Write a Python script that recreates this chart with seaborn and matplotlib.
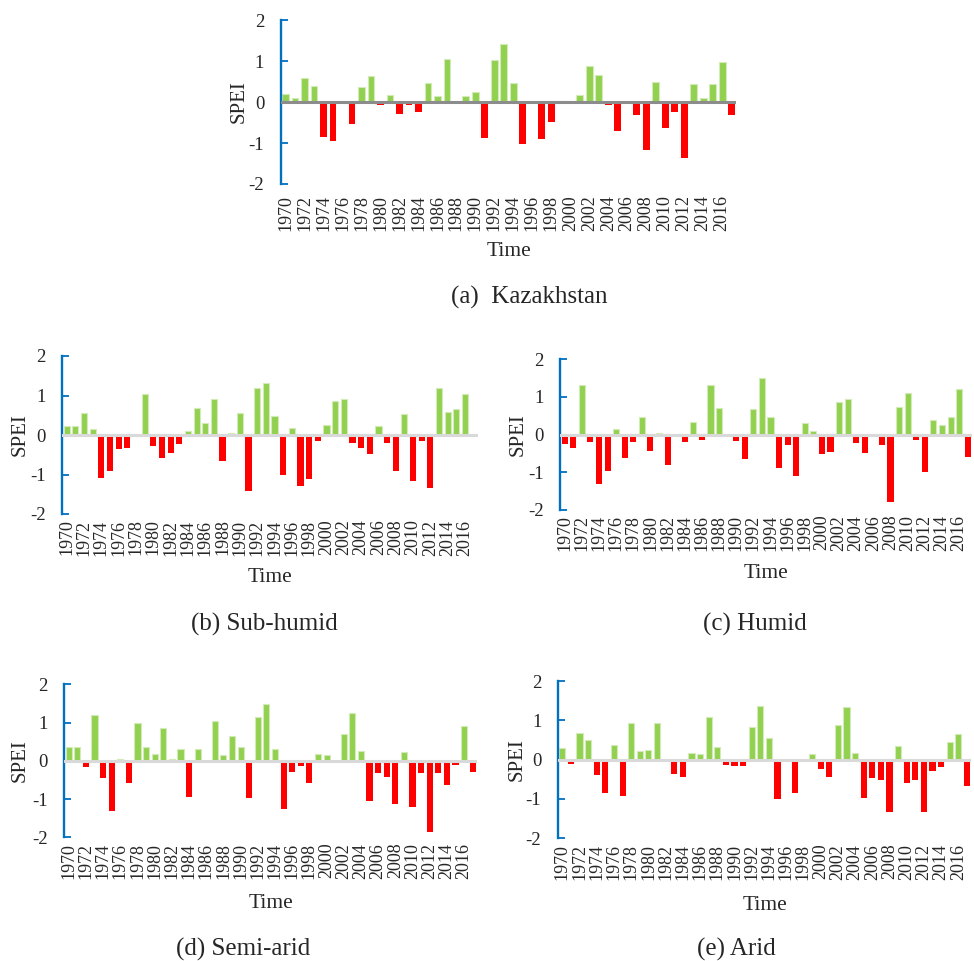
import matplotlib
matplotlib.use("Agg")
import matplotlib.pyplot as plt
import seaborn as sns
import pandas as pd
import numpy as np

years = list(range(1970, 2018))
year_labels = [str(y) for y in years]

kazakhstan = [0.20, 0.10, 0.60, 0.40, -0.84, -0.96, 0.00, -0.54, 0.37, 0.64,
              -0.07, 0.17, -0.29, -0.07, -0.24, 0.46, 0.15, 1.06, 0.00, 0.14,
              0.26, -0.88, 1.02, 1.43, 0.48, -1.03, 0.00, -0.90, -0.49, 0.04,
              0.01, 0.18, 0.88, 0.66, -0.07, -0.71, 0.00, -0.32, -1.17, 0.49,
              -0.63, -0.24, -1.37, 0.44, 0.11, 0.45, 0.98, -0.32]
sub_humid = [0.23, 0.24, 0.56, 0.14, -1.08, -0.90, -0.35, -0.32, -0.04, 1.05,
             -0.27, -0.57, -0.45, -0.22, 0.09, 0.68, 0.31, 0.91, -0.65, 0.04,
             0.55, -1.41, 1.18, 1.32, 0.48, -1.00, 0.18, -1.30, -1.12, -0.14,
             0.25, 0.85, 0.92, -0.19, -0.34, -0.49, 0.24, -0.21, -0.90, 0.53,
             -1.17, -0.16, -1.35, 1.19, 0.57, 0.67, 1.04, -0.06]
humid = [-0.25, -0.35, 1.30, -0.19, -1.31, -0.97, 0.15, -0.62, -0.19, 0.47,
         -0.43, 0.03, -0.80, 0.00, -0.19, 0.33, -0.14, 1.30, 0.69, -0.03,
         -0.17, -0.64, 0.67, 1.50, 0.46, -0.88, -0.27, -1.10, 0.31, 0.09,
         -0.51, -0.46, 0.86, 0.95, -0.22, -0.49, 0.00, -0.27, -1.78, 0.73,
         1.09, -0.14, -0.99, 0.38, 0.24, 0.46, 1.20, -0.59]
semi_arid = [0.36, 0.36, -0.16, 1.21, -0.44, -1.32, 0.06, -0.58, 0.99, 0.35,
             0.17, 0.85, 0.06, 0.31, -0.95, 0.31, 0.00, 1.04, 0.14, 0.66,
             0.37, -0.98, 1.14, 1.49, 0.30, -1.26, -0.29, -0.13, -0.58, 0.18,
             0.16, 0.00, 0.69, 1.26, 0.26, -1.05, -0.31, -0.42, -1.12, 0.22,
             -1.20, -0.31, -1.86, -0.31, -0.63, -0.10, 0.90, -0.29]
arid = [0.30, -0.12, 0.69, 0.49, -0.40, -0.84, 0.38, -0.92, 0.93, 0.22,
        0.24, 0.93, 0.00, -0.36, -0.43, 0.18, 0.15, 1.08, 0.32, -0.13,
        -0.15, -0.15, 0.82, 1.36, 0.55, -1.01, 0.00, -0.84, 0.00, 0.15,
        -0.25, -0.43, 0.89, 1.35, 0.16, -0.98, -0.46, -0.51, -1.32, 0.34,
        -0.60, -0.53, -1.32, -0.28, -0.18, 0.45, 0.65, -0.66]

y_ticks = [2, 1, 0, -1, -2]
y_tick_labels = ["2", "1", "0", "-1", "-2"]
captions = ["(a)  Kazakhstan", "(b) Sub-humid", "(c) Humid", "(d) Semi-arid", "(e) Arid"]

sns.set_style("white")
plt.rcParams["font.family"] = ["Liberation Serif", "DejaVu Serif"]
plt.rcParams["axes.unicode_minus"] = False

W, H = 974, 961
fig = plt.figure(figsize=(W / 100, H / 100), dpi=100)

GREEN = "#92D050"
RED = "#FF0000"
BLUE = "#0070C0"

# panel layout in pixels: (x_left, x_right, y_top, y_bottom)
panels = [
    (kazakhstan, (280.8, 736.4, 20.3, 184.0), "#8c8c8c", 8, (239, 102), (508.6, 251), (529, 297)),
    (sub_humid, (62.4, 478.0, 356.0, 514.0), "#d9d9d9", 4, (20, 435), (270, 577), (264, 624)),
    (humid, (560.4, 972.0, 359.0, 510.0), "#d9d9d9", 3.5, (518, 435), (766, 574), (755, 624)),
    (semi_arid, (64.4, 477.0, 684.3, 837.3), "#d9d9d9", 4, (20, 761), (271, 904), (243, 949)),
    (arid, (558.0, 971.3, 681.0, 838.3), "#d9d9d9", 4, (517, 760), (765, 905), (736, 949)),
]

for (vals, (xl, xr, yt, yb), zcol, xpad, spei_xy, time_xy, cap_xy), cap in zip(panels, captions):
    ax = fig.add_axes([xl / W, 1 - yb / H, (xr - xl) / W, (yb - yt) / H])
    df = pd.DataFrame({"year": year_labels, "spei": vals})
    df["sign"] = np.where(df["spei"] >= 0, "pos", "neg")
    sns.barplot(data=df, x="year", y="spei", hue="sign", hue_order=["pos", "neg"],
                palette={"pos": GREEN, "neg": RED}, dodge=False, width=0.714,
                saturation=1, legend=False, ax=ax, errorbar=None, order=year_labels)
    for p in ax.patches:
        if p.get_facecolor()[1] > 0.5:
            p.set_edgecolor("#d3ebb8")
            p.set_linewidth(0.8)
        else:
            p.set_linewidth(0)
    ax.axhline(0, color=zcol, lw=2.2, zorder=5)
    ax.set_xlim(-0.5, 47.5)
    ax.set_ylim(-2, 2)
    for s in ["top", "right", "bottom"]:
        ax.spines[s].set_visible(False)
    ax.spines["left"].set_color(BLUE)
    ax.spines["left"].set_linewidth(1.7)
    ax.set_yticks(y_ticks)
    ax.set_yticklabels(y_tick_labels, fontsize=13.5)
    ax.tick_params(axis="y", direction="in", length=5, width=1.3, color=BLUE, pad=12, left=True)
    ax.set_xticks(list(range(0, 48, 2)))
    ax.set_xticklabels(year_labels[::2], rotation=90, fontsize=13)
    ax.tick_params(axis="x", length=0, pad=xpad)
    ax.set_xlabel("Time", fontsize=15.5)
    ax.xaxis.set_label_coords(time_xy[0] / W, 1 - time_xy[1] / H, transform=fig.transFigure)
    ax.xaxis.label.set_va("center")
    ax.set_ylabel("SPEI", fontsize=15)
    ax.yaxis.set_label_coords(spei_xy[0] / W, 1 - spei_xy[1] / H, transform=fig.transFigure)
    ax.yaxis.label.set_va("center")
    ax.grid(False)
    fig.text(cap_xy[0] / W, 1 - cap_xy[1] / H, cap, fontsize=18, ha="center", va="center")

fig.savefig("out.png", dpi=100)
